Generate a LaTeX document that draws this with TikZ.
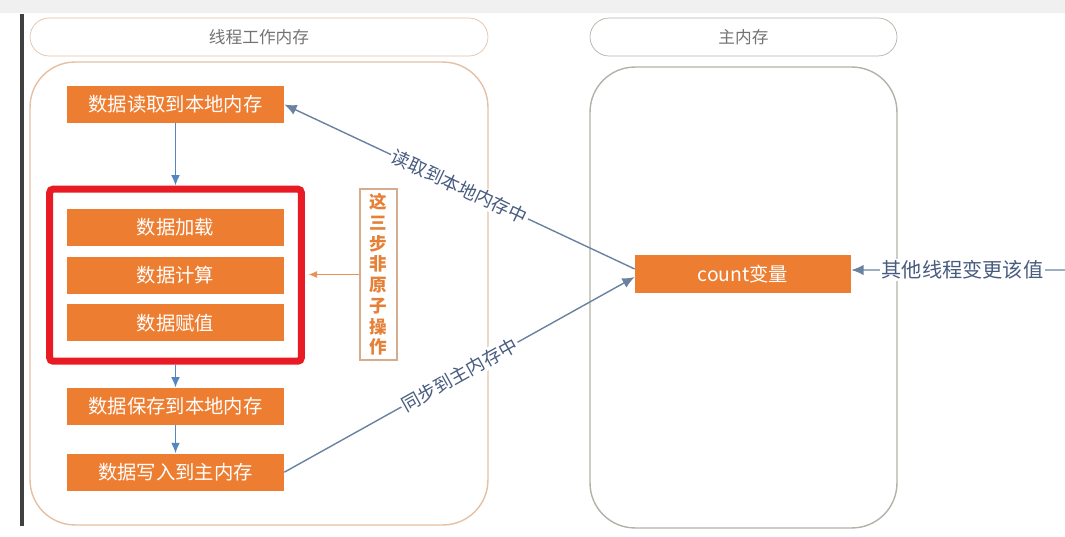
\documentclass[tikz,border=0pt]{standalone}
\usepackage{fontspec}
\setmainfont{Noto Sans CJK SC}
\usepackage{tikz}
\usetikzlibrary{arrows.meta, positioning, fit}
\usepackage{xcolor}
\definecolor{boxorange}{RGB}{237,125,49}
\definecolor{flowblue}{RGB}{84,134,192}
\definecolor{linkgray}{RGB}{105,130,160}
\definecolor{labelblue}{RGB}{72,92,128}
\definecolor{tanline}{RGB}{228,192,165}
\definecolor{grayline}{RGB}{178,178,168}
\definecolor{noteorange}{RGB}{228,128,55}
\definecolor{noteline}{RGB}{214,172,142}
\definecolor{redmark}{RGB}{232,26,36}
\tikzset{
  stagebox/.style={
    rectangle, fill=boxorange, text=white, inner sep=0pt,
    minimum width=4.34cm, minimum height=0.74cm, font=\fontsize{11}{13}\selectfont
  },
  headerpill/.style={rectangle, rounded corners=0.38cm, minimum height=0.76cm,
    text=black!55, font=\fontsize{9.5}{11}\selectfont},
  memarea/.style={rectangle, rounded corners=0.9cm, line width=0.8pt},
  notebox/.style={rectangle, draw=noteline, line width=0.8pt, text=noteorange,
    minimum width=0.74cm, minimum height=3.42cm, inner sep=1pt, align=center,
    font=\fontsize{10}{11.8}\selectfont\bfseries},
  flowarrow/.style={-{Latex[length=6pt,width=5pt]}, line width=0.9pt, color=flowblue},
  linkarrow/.style={-{Latex[length=7pt,width=6pt]}, line width=0.8pt, color=linkgray},
  linklabel/.style={fill=white, inner sep=1pt, text=labelblue, font=\fontsize{10.5}{12}\selectfont}
}

\begin{document}
\begin{tikzpicture}[x=0.02cm, y=-0.02cm]
  \useasboundingbox (0,0) rectangle (1065,537);
  \fill[black!6] (0,0) rectangle (1065,13);
  \draw[line width=2pt, black!75] (22,14) -- (22,526);

  % memory areas
  \node[headerpill, draw=tanline, minimum width=9.16cm] (workhead) at (259,37) {线程工作内存};
  \node[memarea, draw=tanline, minimum width=9.16cm, minimum height=9.26cm] (workmem) at (259,293.5) {};
  \node[headerpill, draw=grayline, minimum width=6.14cm] (mainhead) at (743.5,37) {主内存};
  \node[memarea, draw=grayline, minimum width=6.14cm, minimum height=9.22cm] (mainmem) at (743.5,297.5) {};

  % thread steps
  \node[stagebox] (read) at (175.5,104.5) {数据读取到本地内存};
  \node[stagebox] (load) at (175.5,227.5) {数据加载};
  \node[stagebox, below=0.2cm of load] (calc) {数据计算};
  \node[stagebox, below=0.2cm of calc] (assign) {数据赋值};
  \node[stagebox] (save) at (175.5,406.5) {数据保存到本地内存};
  \node[stagebox, below=0.56cm of save] (write) {数据写入到主内存};
  \node[draw=redmark, line width=4pt, rounded corners=2pt, inner xsep=0.34cm, inner ysep=0.39cm,
        fit=(load)(assign)] (redbox) {};
  \node[notebox] (note) at (378.5,274.5) {这\\三\\步\\非\\原\\子\\操\\作};

  % main memory
  \node[stagebox, minimum width=4.32cm, minimum height=0.76cm] (count) at (743,274) {count变量};
  \coordinate (otherthread) at (1065,270);

  \draw[flowarrow] (read.south) -- (redbox.north);
  \draw[flowarrow] (redbox.south) -- (save.north);
  \draw[flowarrow] (save) -- (write);
  \draw[-{Latex[length=5pt,width=4pt]}, line width=0.7pt, color=noteorange!85]
    (note.west) -- ([xshift=2pt]redbox.east |- note.west);
  \draw[linkarrow] ([yshift=0.1cm]count.west) -- node[linklabel, sloped]{读取到本地内存中} (read.east);
  \draw[linkarrow] (write.east) -- node[linklabel, sloped]{同步到主内存中} ([yshift=-0.06cm]count.west);
  \draw[linkarrow] (otherthread) -- node[linklabel, pos=0.48, font=\fontsize{11.5}{13}\selectfont]{其他线程变更该值} ([yshift=0.08cm]count.east);
\end{tikzpicture}
\end{document}
